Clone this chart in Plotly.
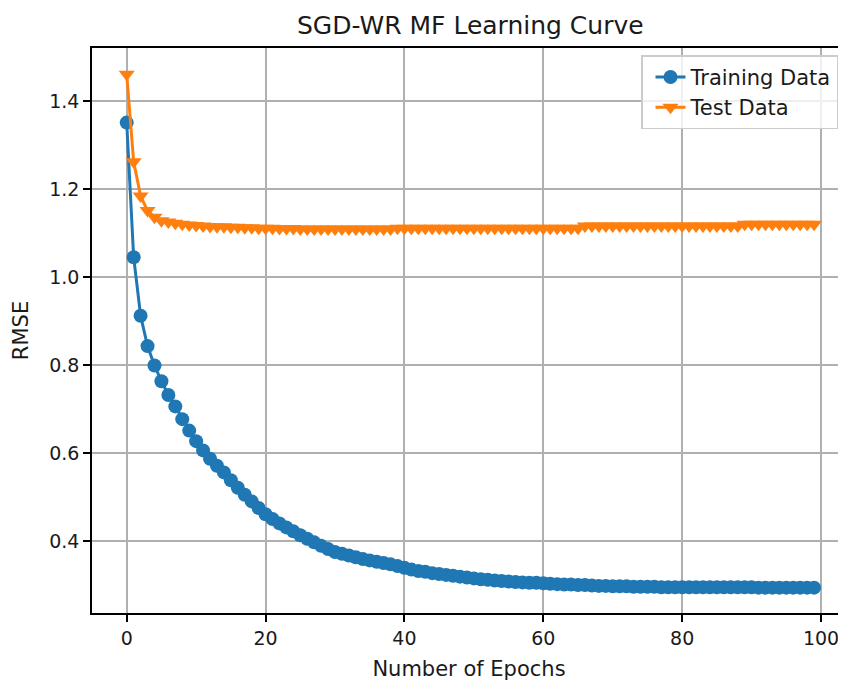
import plotly.graph_objects as go

epochs = list(range(100))

train_rmse = [
    1.351, 1.045, 0.912, 0.843, 0.799, 0.763, 0.732, 0.706, 0.677, 0.651,
    0.627, 0.606, 0.587, 0.571, 0.556, 0.538, 0.521, 0.505, 0.490, 0.475,
    0.461, 0.450, 0.440, 0.431, 0.422, 0.413, 0.405, 0.397, 0.389, 0.382,
    0.375, 0.371, 0.367, 0.363, 0.359, 0.356, 0.353, 0.350, 0.347, 0.343,
    0.339, 0.335, 0.332, 0.330, 0.327, 0.325, 0.323, 0.321, 0.319, 0.317,
    0.315, 0.313, 0.312, 0.310, 0.309, 0.308, 0.307, 0.306, 0.305, 0.305,
    0.304, 0.303, 0.302, 0.301, 0.301, 0.300, 0.300, 0.299, 0.298, 0.298,
    0.297, 0.297, 0.297, 0.296, 0.296, 0.296, 0.296, 0.295, 0.295, 0.295,
    0.295, 0.295, 0.295, 0.295, 0.295, 0.295, 0.295, 0.295, 0.295, 0.295,
    0.295, 0.294, 0.294, 0.294, 0.294, 0.294, 0.294, 0.294, 0.294, 0.294,
]

test_rmse = [
    1.461, 1.262, 1.184, 1.151, 1.136, 1.128, 1.125, 1.122, 1.120, 1.118,
    1.117, 1.116, 1.115, 1.114, 1.114, 1.113, 1.113, 1.112, 1.112, 1.111,
    1.111, 1.111, 1.110, 1.110, 1.110,
    1.109, 1.109, 1.109, 1.109, 1.109, 1.109, 1.109, 1.109, 1.109, 1.109,
    1.109, 1.109, 1.109, 1.109,
    1.111, 1.111, 1.111, 1.111, 1.111, 1.111, 1.111, 1.111, 1.111, 1.111,
    1.111, 1.111, 1.111, 1.111, 1.111, 1.111, 1.111, 1.111, 1.111, 1.111,
    1.111, 1.111, 1.111, 1.111, 1.111, 1.111, 1.111,
    1.116, 1.116, 1.116, 1.116, 1.116, 1.116, 1.116, 1.116, 1.116, 1.116,
    1.116, 1.116, 1.116, 1.116, 1.116, 1.116, 1.116, 1.116, 1.116, 1.116,
    1.116, 1.116, 1.116,
    1.120, 1.120, 1.120, 1.120, 1.120, 1.120, 1.120, 1.120, 1.120, 1.120,
    1.120,
]

x_ticks = [0, 20, 40, 60, 80, 100]
y_ticks = [0.4, 0.6, 0.8, 1.0, 1.2, 1.4]

FONT = "DejaVu Sans"
TXT = "#1a1a1a"

fig = go.Figure()
fig.add_trace(go.Scatter(
    x=epochs, y=train_rmse, mode="lines+markers", name="Training Data",
    line=dict(color="#1f77b4", width=3),
    marker=dict(symbol="circle", size=14, color="#1f77b4"),
))
fig.add_trace(go.Scatter(
    x=epochs, y=test_rmse, mode="lines+markers", name="Test Data",
    line=dict(color="#ff7f0e", width=3),
    marker=dict(symbol="triangle-down", size=14, color="#ff7f0e"),
))

# page body has an 8px margin: figure is 838x673 placed at (8, 8)
fig.update_layout(
    width=838, height=673,
    margin=dict(l=84, r=0, t=40, b=68, autoexpand=False),
    paper_bgcolor="white", plot_bgcolor="white",
    font=dict(family=FONT, size=21, color=TXT),
    title=dict(text="SGD-WR MF Learning Curve", x=462.3 / 838, xanchor="center",
               y=1 - 17 / 673, yanchor="middle", font=dict(family=FONT, size=25, color=TXT)),
    showlegend=True,
    legend=dict(x=0.9894, xanchor="right", y=0.987, yanchor="top",
                bgcolor="rgba(255,255,255,0.8)", bordercolor="#cccccc", borderwidth=1.5,
                font=dict(family=FONT, size=21, color=TXT), itemwidth=30,
                indentation=8),
)
fig.update_xaxes(
    range=[-5.0, 103.6], tickmode="array", tickvals=x_ticks,
    ticktext=[str(v) for v in x_ticks],
    showgrid=True, gridcolor="#b0b0b0", gridwidth=1.7,
    showline=True, linecolor="black", linewidth=1.7, mirror=True,
    ticks="outside", ticklen=7, tickcolor="black", tickwidth=1.7,
    zeroline=False, automargin=False,
    tickfont=dict(family=FONT, size=19, color=TXT),
    title=dict(text="Number of Epochs", font=dict(family=FONT, size=21, color=TXT)),
)
fig.update_yaxes(
    range=[0.2364, 1.5205], tickmode="array", tickvals=y_ticks,
    ticktext=[f"{v:.1f}" for v in y_ticks],
    showgrid=True, gridcolor="#b0b0b0", gridwidth=1.7,
    showline=True, linecolor="black", linewidth=1.7, mirror=False,
    ticks="outside", ticklen=7, tickcolor="black", tickwidth=1.7,
    zeroline=False, automargin=False,
    tickfont=dict(family=FONT, size=19, color=TXT),
    title=dict(text="RMSE", font=dict(family=FONT, size=21, color=TXT)),
)

fig.write_html("out.html")
